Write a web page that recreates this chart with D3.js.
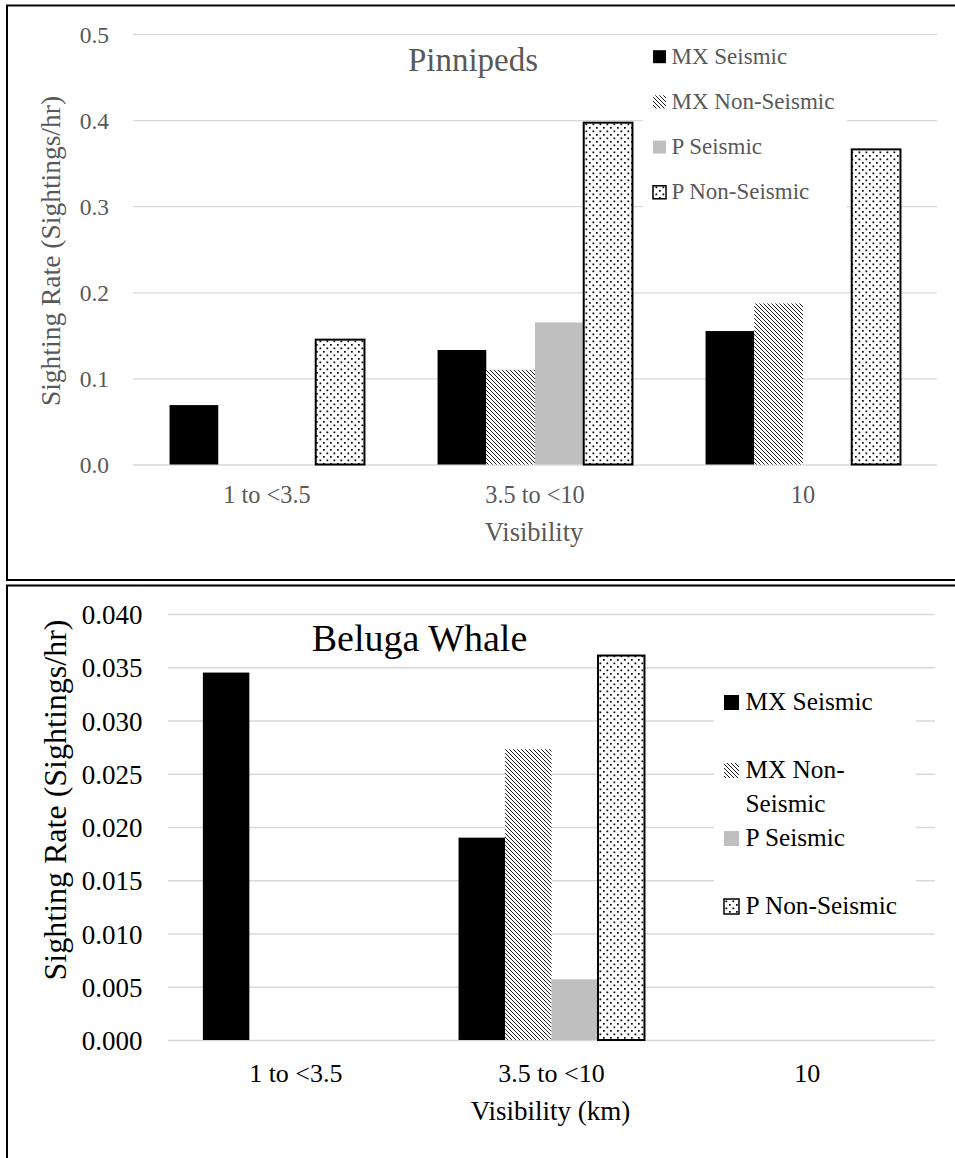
<!DOCTYPE html>
<html>
<head>
<meta charset="utf-8">
<script src="https://cdn.jsdelivr.net/npm/d3@7"></script>
<style>
  body { margin: 0; background: #fff; }
  svg { display: block; }
  text { font-family: "Liberation Serif", serif; }
</style>
</head>
<body>
<svg id="chart" width="955" height="1158" font-family="Liberation Serif"></svg>
<script>
const categories = ["1 to <3.5", "3.5 to <10", "10"];
const seriesNames = ["MX Seismic", "MX Non-Seismic", "P Seismic", "P Non-Seismic"];

// Pinnipeds (sightings/hr)
const pinnMxSeismic = [0.069, 0.133, 0.155];
const pinnMxNonSeismic = [0, 0.110, 0.187];
const pinnPSeismic = [0, 0.165, 0];
const pinnPNonSeismic = [0.145, 0.397, 0.366];
const pinnTicks = [0, 0.1, 0.2, 0.3, 0.4, 0.5];

// Beluga whale (sightings/hr)
const belugaMxSeismic = [0.0345, 0.0190, 0];
const belugaMxNonSeismic = [0, 0.0273, 0];
const belugaPSeismic = [0, 0.0057, 0];
const belugaPNonSeismic = [0, 0.0361, 0];
const belugaTicks = [0, 0.005, 0.010, 0.015, 0.020, 0.025, 0.030, 0.035, 0.040];

const pinnLegendLines = [["MX Seismic"], ["MX Non-Seismic"], ["P Seismic"], ["P Non-Seismic"]];
const belugaLegendLines = [["MX Seismic"], ["MX Non-", "Seismic"], ["P Seismic"], ["P Non-Seismic"]];

const FONT = "Liberation Serif";
const svg = d3.select("#chart");
const defs = svg.append("defs");

// wide downward diagonal hatch
const hatch = defs.append("pattern")
  .attr("id", "hatch").attr("patternUnits", "userSpaceOnUse")
  .attr("width", 4).attr("height", 4);
hatch.append("rect").attr("width", 4).attr("height", 4).attr("fill", "#fff");
hatch.append("path")
  .attr("d", "M-1,-1L5,5M-1,3L1,5M3,-1L5,1")
  .attr("stroke", "#000").attr("stroke-width", 0.9);

// dotted fill
const dots = defs.append("pattern")
  .attr("id", "dots").attr("patternUnits", "userSpaceOnUse")
  .attr("width", 7).attr("height", 7);
dots.append("rect").attr("width", 7).attr("height", 7).attr("fill", "#fff");
dots.append("rect").attr("x", 1).attr("y", 1).attr("width", 1.7).attr("height", 1.7).attr("fill", "#000");
dots.append("rect").attr("x", 4.5).attr("y", 4.5).attr("width", 1.7).attr("height", 1.7).attr("fill", "#000");

const seriesStyle = {
  "MX Seismic": { fill: "#000", stroke: "none" },
  "MX Non-Seismic": { fill: "url(#hatch)", stroke: "none" },
  "P Seismic": { fill: "#bfbfbf", stroke: "none" },
  "P Non-Seismic": { fill: "url(#dots)", stroke: "#000" }
};

function drawPanel(o) {
  const g = svg.append("g").attr("font-family", FONT);
  const pw = o.right - o.left;

  const x0 = d3.scaleBand().domain(categories).range([o.left, o.right]).padding(0);
  const x1 = d3.scaleBand().domain(seriesNames).range([0, x0.bandwidth()])
    .paddingInner(0).paddingOuter(0.75);
  const y = d3.scaleLinear().domain([0, d3.max(o.ticks)]).range([o.bottom, o.top]);

  // gridlines + tick labels
  const yAxis = g.append("g")
    .attr("transform", `translate(${o.left},0)`)
    .call(d3.axisLeft(y).tickValues(o.ticks).tickFormat(d3.format(o.fmt))
      .tickSize(-pw).tickPadding(o.tickPad));
  yAxis.attr("font-family", FONT);
  yAxis.select(".domain").remove();
  yAxis.selectAll(".tick line").attr("stroke", "#d9d9d9").attr("stroke-width", 1.3);
  yAxis.selectAll(".tick text")
    .attr("fill", o.color).attr("font-size", o.tickSize)
    .attr("font-family", FONT).attr("dy", "0.36em");

  // legend box hides the grid behind it
  const lg = g.append("g");
  lg.append("rect")
    .attr("x", o.legend.x0).attr("y", o.legend.y0)
    .attr("width", o.legend.x1 - o.legend.x0).attr("height", o.legend.y1 - o.legend.y0)
    .attr("fill", "#fff");
  seriesNames.forEach((name, i) => {
    const cy = o.legend.rowStart + i * o.legend.rowStep;
    const s = seriesStyle[name];
    lg.append("rect")
      .attr("x", o.legend.sx).attr("y", cy - o.legend.sq / 2)
      .attr("width", o.legend.sq).attr("height", o.legend.sq)
      .attr("fill", s.fill)
      .attr("stroke", s.stroke).attr("stroke-width", 1.5);
    const t = lg.append("text")
      .attr("x", o.legend.tx).attr("y", cy + o.legend.fs * 0.31)
      .attr("font-family", FONT)
      .attr("font-size", o.legend.fs).attr("fill", o.color);
    o.legendLines[i].forEach((line, j) => {
      t.append("tspan").attr("x", o.legend.tx)
        .attr("dy", j === 0 ? 0 : o.legend.lineH).text(line);
    });
  });

  // bars
  const barData = [];
  categories.forEach((c, ci) => {
    seriesNames.forEach((s, si) => {
      const v = o.series[si][ci];
      if (v > 0) barData.push({ cat: c, name: s, value: v });
    });
  });
  g.append("g").selectAll("rect")
    .data(barData)
    .join("rect")
    .attr("x", d => x0(d.cat) + x1(d.name))
    .attr("y", d => y(d.value))
    .attr("width", x1.bandwidth())
    .attr("height", d => y(0) - y(d.value))
    .attr("fill", d => seriesStyle[d.name].fill)
    .attr("stroke", d => seriesStyle[d.name].stroke)
    .attr("stroke-width", 2);

  // category labels
  const xAxis = g.append("g")
    .attr("transform", `translate(0,${o.bottom})`)
    .call(d3.axisBottom(x0).tickSize(0));
  xAxis.attr("font-family", FONT);
  xAxis.select(".domain").remove();
  xAxis.selectAll(".tick text")
    .attr("y", o.catY - o.bottom).attr("dy", null)
    .attr("fill", o.color).attr("font-size", o.catSize)
    .attr("font-family", FONT);

  // axis titles
  g.append("text")
    .attr("x", o.xTitleX).attr("y", o.xTitleY)
    .attr("text-anchor", "middle").attr("font-family", FONT)
    .attr("font-size", o.xTitleSize).attr("fill", o.color)
    .text(o.xTitle);
  g.append("text")
    .attr("transform", `translate(${o.yTitleX},${o.yTitleY}) rotate(-90)`)
    .attr("text-anchor", "middle").attr("font-family", FONT)
    .attr("font-size", o.yTitleSize).attr("fill", o.color)
    .text("Sighting Rate (Sightings/hr)");

  // chart title
  g.append("text")
    .attr("x", o.titleX).attr("y", o.titleY)
    .attr("text-anchor", "middle").attr("font-family", FONT)
    .attr("font-size", o.titleSize).attr("fill", o.color)
    .text(o.title);
}

drawPanel({
  series: [pinnMxSeismic, pinnMxNonSeismic, pinnPSeismic, pinnPNonSeismic],
  ticks: pinnTicks, fmt: ".1f",
  left: 133, right: 937, top: 34, bottom: 464.5,
  color: "#595959",
  tickSize: 23.5, tickPad: 24,
  catSize: 24.3, catY: 503,
  xTitle: "Visibility", xTitleX: 534, xTitleY: 541, xTitleSize: 26.5,
  yTitleX: 60, yTitleY: 251, yTitleSize: 27.5,
  title: "Pinnipeds", titleX: 473, titleY: 71, titleSize: 33,
  legendLines: pinnLegendLines,
  legend: { x0: 643, x1: 847, y0: 36, y1: 214, sx: 653, sq: 13, tx: 671.5,
            rowStart: 56.7, rowStep: 45.2, fs: 23, lineH: 28 }
});

drawPanel({
  series: [belugaMxSeismic, belugaMxNonSeismic, belugaPSeismic, belugaPNonSeismic],
  ticks: belugaTicks, fmt: ".3f",
  left: 168, right: 935, top: 614, bottom: 1040,
  color: "#000",
  tickSize: 27, tickPad: 25.5,
  catSize: 26, catY: 1081.5,
  xTitle: "Visibility (km)", xTitleX: 550.5, xTitleY: 1120, xTitleSize: 27,
  yTitleX: 66, yTitleY: 800, yTitleSize: 32,
  title: "Beluga Whale", titleX: 419.5, titleY: 651, titleSize: 38,
  legendLines: belugaLegendLines,
  legend: { x0: 714, x1: 916, y0: 688, y1: 924, sx: 724, sq: 15, tx: 745.5,
            rowStart: 702.5, rowStep: 68, fs: 25.3, lineH: 33.3 }
});

// panel frames
const frame = svg.append("g").attr("stroke", "#000").attr("stroke-width", 2).attr("fill", "none");
frame.append("path").attr("d", "M955,5.5H7V580H955");
frame.append("path").attr("d", "M955,585.5H7V1158");
</script>
</body>
</html>
